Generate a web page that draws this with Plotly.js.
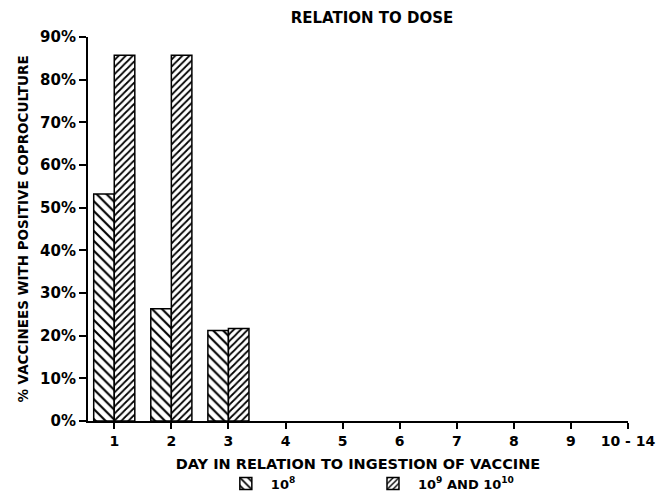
<!DOCTYPE html>
<html>
<head>
<meta charset="utf-8">
<script src="https://cdn.plot.ly/plotly-3.0.1.min.js"></script>
<style>html,body{margin:0;padding:0;background:#fff;}#chart{width:656px;height:493px;}</style>
</head>
<body>
<div id="chart"></div>
<script>
const days = [1, 2, 3, 4, 5, 6, 7, 8, 9, 10];
const dayLabels = ["1", "2", "3", "4", "5", "6", "7", "8", "9", "10 - 14"];
const dose8 = [53.2, 26.3, 21.2, 0, 0, 0, 0, 0, 0, 0];
const dose9and10 = [85.7, 85.7, 21.7, 0, 0, 0, 0, 0, 0, 0];
const yTicks = [0, 10, 20, 30, 40, 50, 60, 70, 80, 90];
const yTickLabels = yTicks.map(v => v + "%");

const FONT = "DejaVu Sans, Liberation Sans, sans-serif";
const outline = vals => vals.map(v => v > 0 ? 1.5 : 0);

const traces = [
  {
    type: "bar", x: days, y: dose8, name: "10<sup>8</sup>", legend: "legend",
    marker: {color: "#ffffff", line: {color: "#000", width: outline(dose8)},
             pattern: {shape: "\\", size: 7, solidity: 0.3, fgcolor: "#000", bgcolor: "#fff"}},
    hoverinfo: "skip"
  },
  {
    type: "bar", x: days, y: dose9and10, name: "10<sup>9</sup> AND 10<sup>10</sup>", legend: "legend2",
    marker: {color: "#ffffff", line: {color: "#000", width: outline(dose9and10)},
             pattern: {shape: "/", size: 5, solidity: 0.35, fgcolor: "#000", bgcolor: "#fff"}},
    hoverinfo: "skip"
  }
];

const legendBase = {orientation: "h", xanchor: "left", y: -0.124, yanchor: "top",
  font: {family: FONT, size: 13, weight: "bold"}, itemwidth: 40, bgcolor: "rgba(0,0,0,0)", borderwidth: 0};

const layout = {
  width: 656, height: 493,
  margin: {l: 88, r: 28, t: 37, b: 72, autoexpand: false},
  paper_bgcolor: "#fff", plot_bgcolor: "#fff",
  font: {family: FONT, color: "#000", weight: "bold"},
  barmode: "group", bargap: 0.28, bargroupgap: 0,
  title: {text: "RELATION TO DOSE", x: 0.567, xanchor: "center", y: 0.963, yanchor: "middle",
          font: {family: FONT, size: 15, color: "#000", weight: "bold"}},
  xaxis: {
    range: [0.54, 10], tickmode: "array", tickvals: days, ticktext: dayLabels,
    showline: true, linecolor: "#000", linewidth: 2, ticks: "outside", ticklen: 6, tickwidth: 2, tickcolor: "#000",
    ticklabelstandoff: 0, automargin: false,
    showgrid: false, zeroline: false, tickfont: {family: FONT, size: 14, weight: "bold"},
    title: {text: "DAY IN RELATION TO INGESTION OF VACCINE", standoff: 11, font: {family: FONT, size: 14.5, weight: "bold"}},
    fixedrange: true
  },
  yaxis: {
    range: [0, 90], tickmode: "array", tickvals: yTicks, ticktext: yTickLabels,
    showline: true, linecolor: "#000", linewidth: 2, ticks: "outside", ticklen: 7, tickwidth: 2, tickcolor: "#000",
    automargin: false,
    showgrid: false, zeroline: false, tickfont: {family: FONT, size: 15, weight: "bold"},
    title: {text: "% VACCINEES WITH POSITIVE COPROCULTURE", standoff: 8, font: {family: FONT, size: 13.5, weight: "bold"}},
    fixedrange: true
  },
  showlegend: true,
  legend: Object.assign({}, legendBase, {x: 0.246}),
  legend2: Object.assign({}, legendBase, {x: 0.5185})
};

Plotly.newPlot("chart", traces, layout, {displayModeBar: false, staticPlot: true});
</script>
</body>
</html>
